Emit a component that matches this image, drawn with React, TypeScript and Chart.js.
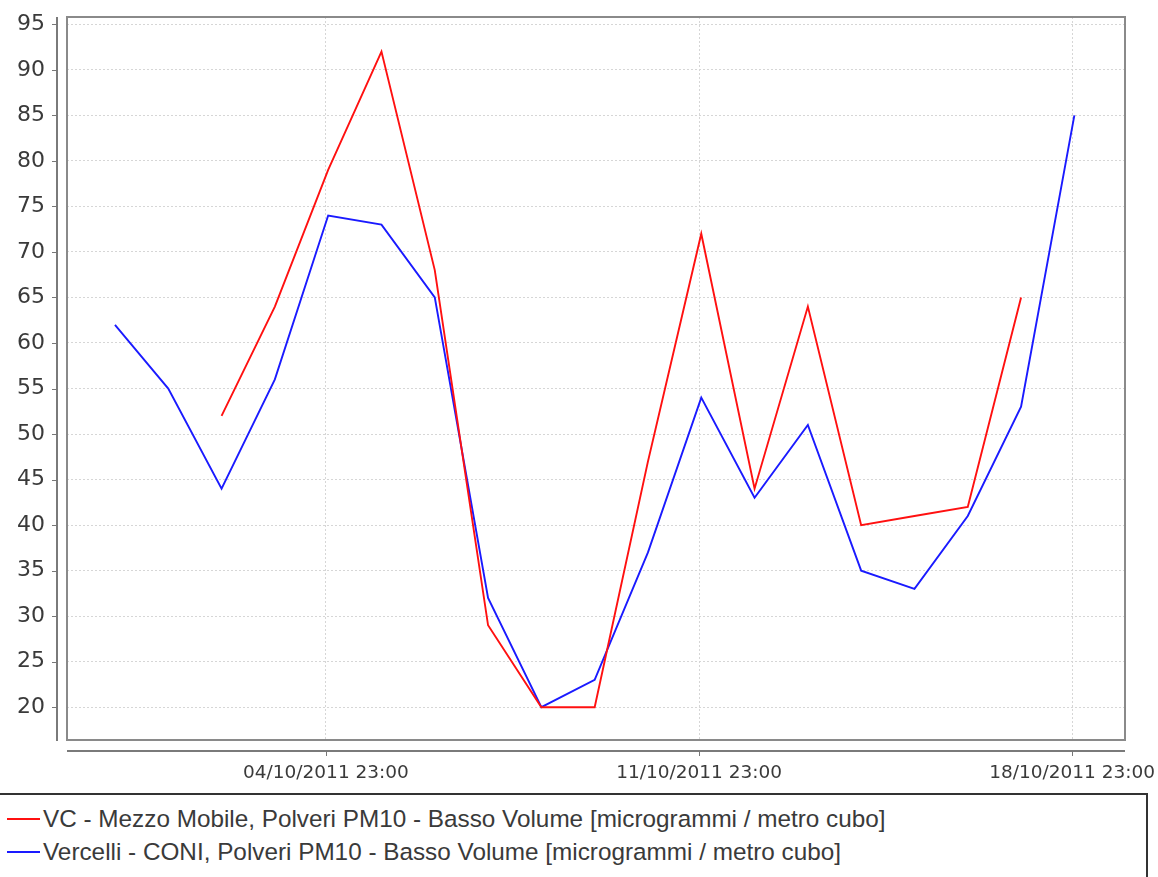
import React, { useEffect, useRef } from 'react';
import { Chart, registerables } from 'chart.js';

Chart.register(...registerables);

// Daily samples (values taken at 00:00 of each day)
const dates = [
  '01/10/2011', '02/10/2011', '03/10/2011', '04/10/2011', '05/10/2011',
  '06/10/2011', '07/10/2011', '08/10/2011', '09/10/2011', '10/10/2011',
  '11/10/2011', '12/10/2011', '13/10/2011', '14/10/2011', '15/10/2011',
  '16/10/2011', '17/10/2011', '18/10/2011', '19/10/2011',
];

const mezzoMobile = [null, null, 52, 64, 79, 92, 68, 29, 20, 20, 47, 72, 44, 64, 40, 41, 42, 65, null];
const vercelliConi = [62, 55, 44, 56, 74, 73, 65, 32, 20, 23, 37, 54, 43, 51, 35, 33, 41, 53, 85];

const seriesLabels = [
  'VC - Mezzo Mobile, Polveri PM10 - Basso Volume [microgrammi / metro cubo]',
  'Vercelli - CONI, Polveri PM10 - Basso Volume [microgrammi / metro cubo]',
];
const seriesColors = ['#ff1010', '#1a1aff'];

const xTickLabels = ['04/10/2011 23:00', '11/10/2011 23:00', '18/10/2011 23:00'];
const yTicks = [20, 25, 30, 35, 40, 45, 50, 55, 60, 65, 70, 75, 80, 85, 90, 95];

// tick position: day index + 23 hours
const xTickPositions = xTickLabels.map((l) => dates.indexOf(l.slice(0, 10)) + 23 / 24);

const toPoints = (vals: (number | null)[]) => vals.map((v, i) => ({ x: i, y: v }));

const framePlugin = {
  id: 'jfreeFrame',
  afterDraw(chart: any) {
    const { ctx, chartArea } = chart;
    const { left, right, top, bottom } = chartArea;
    const xs = chart.scales.x;
    const ys = chart.scales.y;
    ctx.save();
    // plot outline
    ctx.strokeStyle = '#8a8a8a';
    ctx.lineWidth = 2;
    ctx.strokeRect(left, top, right - left, bottom - top);
    // y axis line (offset)
    ctx.strokeStyle = '#7a7a7a';
    ctx.beginPath();
    ctx.moveTo(left - 10, top);
    ctx.lineTo(left - 10, bottom + 1);
    ctx.stroke();
    // x axis line (offset)
    ctx.beginPath();
    ctx.moveTo(left, bottom + 11);
    ctx.lineTo(right, bottom + 11);
    ctx.stroke();
    // tick marks
    ctx.lineWidth = 1;
    ctx.strokeStyle = '#777';
    ys.ticks.forEach((t: any) => {
      const y = Math.round(ys.getPixelForValue(t.value)) + 0.5;
      ctx.beginPath();
      ctx.moveTo(left - 15, y);
      ctx.lineTo(left - 10, y);
      ctx.stroke();
    });
    xs.ticks.forEach((t: any) => {
      const x = Math.round(xs.getPixelForValue(t.value)) + 0.5;
      ctx.beginPath();
      ctx.moveTo(x, bottom + 11);
      ctx.lineTo(x, bottom + 16);
      ctx.stroke();
    });
    ctx.restore();
  },
};

function LineChart() {
  const ref = useRef<HTMLCanvasElement | null>(null);
  useEffect(() => {
    if (!ref.current) return;
    const chart = new Chart(ref.current, {
      type: 'line',
      data: {
        datasets: [
          {
            label: seriesLabels[0],
            data: toPoints(mezzoMobile) as any,
            borderColor: seriesColors[0],
            borderWidth: 1.9,
            pointRadius: 0,
            tension: 0,
            spanGaps: false,
          },
          {
            label: seriesLabels[1],
            data: toPoints(vercelliConi) as any,
            borderColor: seriesColors[1],
            borderWidth: 1.9,
            pointRadius: 0,
            tension: 0,
            spanGaps: false,
          },
        ],
      },
      options: {
        animation: false,
        responsive: false,
        maintainAspectRatio: false,
        layout: { padding: { top: 17, right: 33, left: 0, bottom: 0 } },
        plugins: { legend: { display: false }, tooltip: { enabled: false }, title: { display: false } },
        scales: {
          x: {
            type: 'linear',
            min: -0.9,
            max: 18.95,
            afterBuildTicks: (s: any) => {
              s.ticks = xTickPositions.map((v) => ({ value: v }));
            },
            afterFit: (s: any) => {
              s.height = 50;
              s.paddingLeft = 0;
              s.paddingRight = 0;
            },
            ticks: {
              autoSkip: false,
              maxRotation: 0,
              minRotation: 0,
              padding: 22,
              color: '#3a3a3a',
              font: { family: 'DejaVu Sans', size: 18.5 },
              callback: (_v: any, i: number) => xTickLabels[i],
            },
            grid: { color: '#d6d6d6', drawTicks: false, lineWidth: 1 },
            border: { display: false, dash: [2, 2] },
          },
          y: {
            type: 'linear',
            min: 16.4,
            max: 95.8,
            afterBuildTicks: (s: any) => {
              s.ticks = yTicks.map((v) => ({ value: v }));
            },
            afterFit: (s: any) => {
              s.width = 67;
              s.paddingTop = 0;
              s.paddingBottom = 0;
            },
            ticks: {
              padding: 22,
              color: '#3a3a3a',
              font: { family: 'DejaVu Sans', size: 22 },
              callback: (v: any) => String(v),
            },
            grid: { color: '#d6d6d6', drawTicks: false, lineWidth: 1 },
            border: { display: false, dash: [2, 2] },
          },
        },
      },
      plugins: [framePlugin],
    });
    return () => chart.destroy();
  }, []);
  return <canvas ref={ref} width={1158} height={790} style={{ display: 'block', position: 'absolute', left: 0, top: 0 }} />;
}

export default function App() {
  useEffect(() => {
    document.body.style.margin = '0';
    document.body.style.background = '#ffffff';
  }, []);
  return (
    <div style={{ position: 'relative', width: 1158, height: 877, overflow: 'hidden', background: '#fff' }}>
      <LineChart />
      <div
        style={{
          position: 'absolute',
          left: -2,
          top: 793,
          width: 1150,
          height: 120,
          border: '2px solid #333',
          boxSizing: 'border-box',
          fontFamily: '"Liberation Sans", Arial, sans-serif',
          fontSize: 24.3,
          color: '#3a3a3a',
        }}
      >
        {seriesLabels.map((l, i) => (
          <div
            key={l}
            style={{ position: 'absolute', left: 7, top: 9 + i * 33, height: 30, display: 'flex', alignItems: 'center', whiteSpace: 'nowrap' }}
          >
            <span style={{ display: 'inline-block', width: 33, height: 2, background: seriesColors[i], marginRight: 3 }} />
            <span>{l}</span>
          </div>
        ))}
      </div>
    </div>
  );
}
